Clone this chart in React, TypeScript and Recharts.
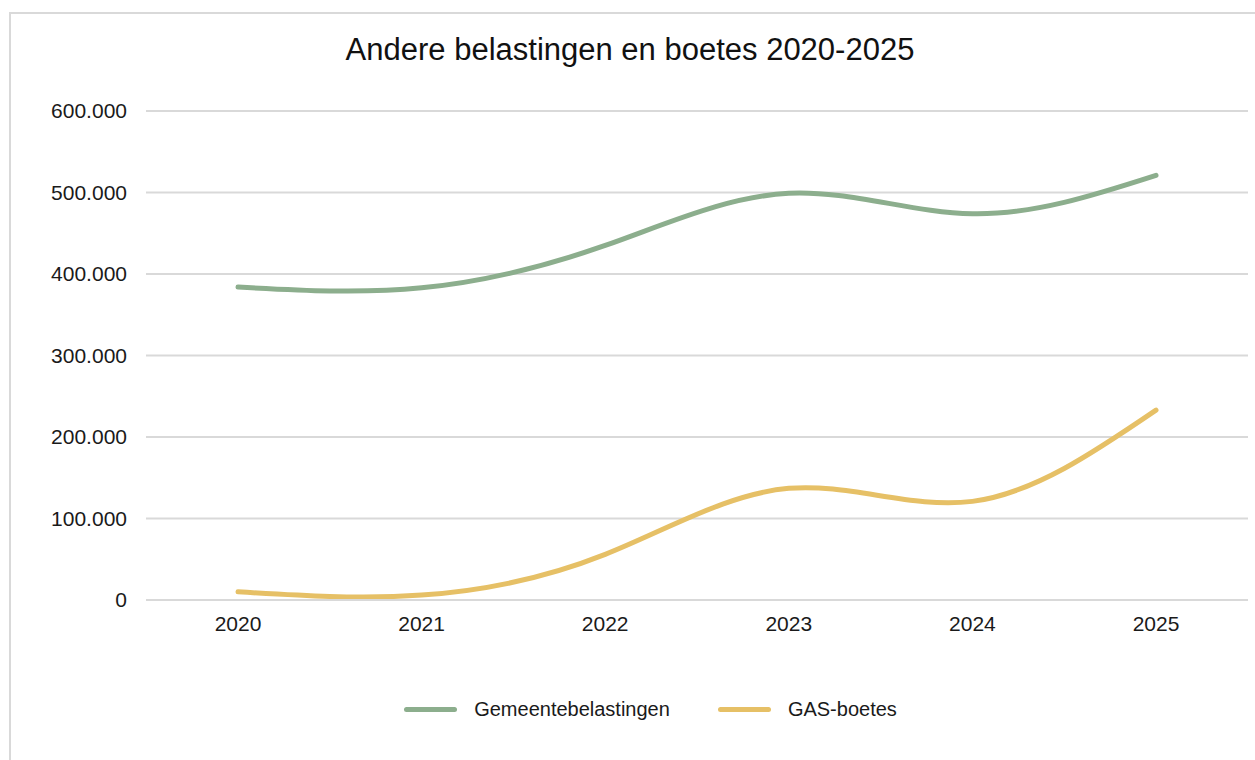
import { LineChart, Line, XAxis, YAxis, CartesianGrid } from "recharts";

const years = ["2020", "2021", "2022", "2023", "2024", "2025"];
const gemeentebelastingen = [384000, 383000, 435000, 499000, 474000, 521000];
const gasBoetes = [10000, 6000, 56000, 137000, 121000, 233000];
const yTicks = [0, 100000, 200000, 300000, 400000, 500000, 600000];

const GREEN = "#8cae8d";
const YELLOW = "#e6c066";
const FONT = "'Liberation Sans', Arial, sans-serif";

const rows = years.map((year, i) => ({
  year,
  gemeente: gemeentebelastingen[i],
  gas: gasBoetes[i],
}));

const formatThousands = (v: number) =>
  v === 0 ? "0" : String(v).replace(/\B(?=(\d{3})+(?!\d))/g, ".");

function LegendRow() {
  const items = [
    { label: "Gemeentebelastingen", color: GREEN },
    { label: "GAS-boetes", color: YELLOW },
  ];
  return (
    <div
      style={{
        position: "absolute",
        top: 696,
        left: 0,
        width: 1255,
        display: "flex",
        justifyContent: "center",
        gap: 48,
        fontFamily: FONT,
        fontSize: 20,
        lineHeight: "26px",
        color: "#1a1a1a",
        paddingLeft: 46,
        boxSizing: "border-box",
      }}
    >
      {items.map((it) => (
        <div key={it.label} style={{ display: "flex", alignItems: "center" }}>
          <span
            style={{
              display: "inline-block",
              width: 53,
              height: 5,
              borderRadius: 3,
              background: it.color,
              marginRight: 17,
            }}
          />
          {it.label}
        </div>
      ))}
    </div>
  );
}

export default function App() {
  return (
    <div
      style={{
        position: "absolute",
        left: 0,
        top: 0,
        width: 1255,
        height: 760,
        overflow: "hidden",
        background: "#fff",
      }}
    >
      <div
        style={{
          position: "absolute",
          left: 9,
          top: 12,
          width: 1270,
          height: 800,
          border: "2px solid #d9d9d9",
          boxSizing: "border-box",
        }}
      />
      <div
        style={{
          position: "absolute",
          top: 31,
          left: 0,
          width: 1260,
          textAlign: "center",
          fontFamily: FONT,
          fontSize: 31,
          lineHeight: "38px",
          color: "#111",
        }}
      >
        Andere belastingen en boetes 2020-2025
      </div>
      <div style={{ position: "absolute", left: 0, top: 0 }}>
        <LineChart
          width={1255}
          height={760}
          data={rows}
          margin={{ top: 111, right: 7, left: 0, bottom: 130 }}
        >
          <CartesianGrid vertical={false} stroke="#d9d9d9" strokeWidth={2} />
          <XAxis
            dataKey="year"
            height={30}
            axisLine={{ stroke: "#d9d9d9", strokeWidth: 2 }}
            tickLine={false}
            tickSize={0}
            tickMargin={16}
            tick={{ fill: "#1a1a1a", fontSize: 21, fontFamily: FONT }}
            padding={{ left: 92, right: 92 }}
          />
          <YAxis
            width={146}
            domain={[0, 600000]}
            ticks={yTicks}
            tickFormatter={formatThousands}
            axisLine={false}
            tickLine={false}
            tickSize={0}
            tickMargin={19}
            tick={{ fill: "#1a1a1a", fontSize: 21, fontFamily: FONT }}
          />
          <Line
            type="natural"
            dataKey="gemeente"
            name="Gemeentebelastingen"
            stroke={GREEN}
            strokeWidth={5}
            strokeLinecap="round"
            dot={false}
            activeDot={false}
            isAnimationActive={false}
          />
          <Line
            type="natural"
            dataKey="gas"
            name="GAS-boetes"
            stroke={YELLOW}
            strokeWidth={5}
            strokeLinecap="round"
            dot={false}
            activeDot={false}
            isAnimationActive={false}
          />
        </LineChart>
      </div>
      <LegendRow />
    </div>
  );
}
